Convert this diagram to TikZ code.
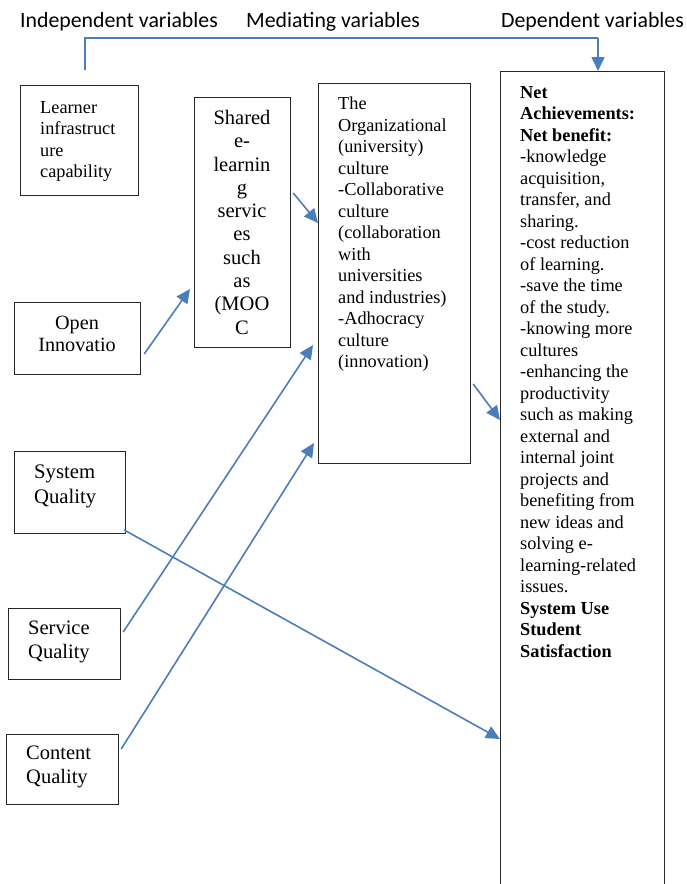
\documentclass[tikz,border=0pt]{standalone}
\usepackage{fontspec}
\setmainfont{Liberation Serif}
\newfontfamily\hdrfont{Carlito}
\usetikzlibrary{arrows.meta,calc}
\definecolor{arrblue}{HTML}{4A7EBB}
\tikzset{
  box/.style={draw=black!85, line width=1.2pt, rectangle, inner sep=0pt, anchor=north west},
  txt/.style={inner sep=0pt, font=\fontsize{18.3}{21.5}\selectfont},
  bigtxt/.style={inner sep=0pt, font=\fontsize{20.5}{23.3}\selectfont},
  hdr/.style={inner sep=0pt, anchor=base west, font=\hdrfont\fontsize{21.8}{24}\selectfont},
  arr/.style={draw=arrblue, line width=1.6pt, -{Triangle[length=14pt,width=13pt]}},
  conn/.style={draw=arrblue, line width=1.6pt}
}
\begin{document}
\begin{tikzpicture}[x=1pt,y=1pt]
\useasboundingbox (0,0) rectangle (686,-884);
\clip (0,0) rectangle (686,-884);
% headers
\node[hdr] (hind) at (20,-27) {Independent variables};
\node[hdr] (hmed) at (246,-27) {Mediating variables};
\node[hdr] (hdep) at (501,-27) {Dependent variables};
% boxes
\node[box, minimum width=118pt, minimum height=110pt] (lrn) at (20,-85) {};
\node[box, minimum width=96pt, minimum height=250pt] (shr) at (194,-97) {};
\node[box, minimum width=126pt, minimum height=72pt] (opn) at (14,-302) {};
\node[box, minimum width=152pt, minimum height=380pt] (org) at (318,-83) {};
\node[box, minimum width=164pt, minimum height=840pt] (net) at (500,-71) {};
\node[box, minimum width=111pt, minimum height=82pt] (sys) at (14,-451) {};
\node[box, minimum width=112pt, minimum height=71pt] (svc) at (8,-608) {};
\node[box, minimum width=112pt, minimum height=70pt] (cnt) at (6,-734) {};
% texts
\node[txt, anchor=north west, align=left] (lrnT) at (40,-101) {Learner\\infrastruct\\ure\\capability};
\node[bigtxt, anchor=north, align=center] (shrT) at (242,-110) {Shared\\e-\\learnin\\g\\servic\\es\\such\\as\\(MOO\\C};
\node[bigtxt, anchor=north, align=center, font=\fontsize{20.2}{22.3}\selectfont] (opnT) at (77,-316) {Open\\Innovatio};
\node[txt, anchor=north west, align=left] (orgT) at (338,-97) {The\\Organizational\\(university)\\culture\\-Collaborative\\culture\\(collaboration\\with\\universities\\and industries)\\-Adhocracy\\culture\\(innovation)};
\node[txt, anchor=north west, align=left] (netT) at (520,-86) {\textbf{Net}\\\textbf{Achievements:}\\\textbf{Net benefit:}\\-knowledge\\acquisition,\\transfer, and\\sharing.\\-cost reduction\\of learning.\\-save the time\\of the study.\\-knowing more\\cultures\\-enhancing the\\productivity\\such as making\\external and\\internal joint\\projects and\\benefiting from\\new ideas and\\solving e-\\learning-related\\issues.\\\textbf{System Use}\\\textbf{Student}\\\textbf{Satisfaction}};
\node[bigtxt, anchor=north west, align=left, font=\fontsize{20.7}{25}\selectfont] (sysT) at (34,-465) {System\\Quality};
\node[bigtxt, anchor=north west, align=left] (svcT) at (28,-621) {Service\\Quality};
\node[bigtxt, anchor=north west, align=left, font=\fontsize{20.5}{24}\selectfont] (cntT) at (26,-746) {Content\\Quality};
% header connector
\coordinate (hs) at (85,-70);
\draw[conn] (hs) -- (85,-38) -- (598,-38);
\draw[arr] (598,-38) -- (net.north -| 598,0);
% arrows
\draw[arr] ($(opn.east |- 0,-354)+(3,0)$) -- ($(shr.west |- 0,-289)+(-4,0)$);
\draw[arr] ($(shr.east |- 0,-193)+(2,0)$) -- (org.west |- 0,-223);
\draw[arr] ($(org.east |- 0,-384)+(2,0)$) -- (net.west |- 0,-420);
\draw[arr] ($(sys.east |- 0,-530)+(-2,0)$) -- (net.west |- 0,-739);
\draw[arr] ($(svc.east |- 0,-632)+(2,0)$) -- ($(org.west |- 0,-345)+(-5,0)$);
\draw[arr] ($(cnt.east |- 0,-749)+(2,0)$) -- ($(org.west |- 0,-443)+(-4,0)$);
\end{tikzpicture}
\end{document}
